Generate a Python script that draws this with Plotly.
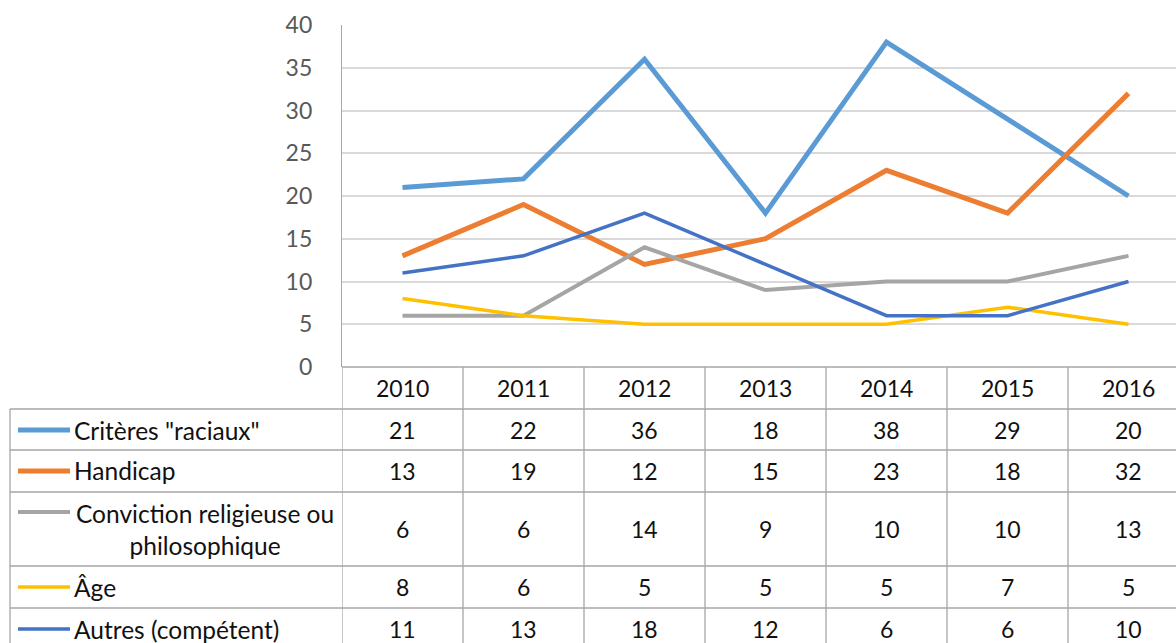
import plotly.graph_objects as go

# Chart data
years = ["2010", "2011", "2012", "2013", "2014", "2015", "2016"]
series_names = ["Critères \"raciaux\"", "Handicap", "Conviction religieuse ou<br>philosophique", "Âge", "Autres (compétent)"]
racial = [21, 22, 36, 18, 38, 29, 20]
handicap = [13, 19, 12, 15, 23, 18, 32]
conviction = [6, 6, 14, 9, 10, 10, 13]
age = [8, 6, 5, 5, 5, 7, 5]
autres = [11, 13, 18, 12, 6, 6, 10]
y_ticks = [0, 5, 10, 15, 20, 25, 30, 35, 40]

series_values = [racial, handicap, conviction, age, autres]
colors = ["#5b9bd5", "#ed7d31", "#a5a5a5", "#ffc000", "#4472c4"]
widths = [5, 5, 4, 3.5, 3.5]

W, H = 1176, 643
FONT = "Lato, Carlito, Calibri, sans-serif"
GRID = "#d9d9d9"
BORDER = "#a6a6a6"
TEXT = "#111111"
FS_NUM = 23
FS_LABEL = 24.5


def px(x):
    return x / W


def py(y):
    return 1 - y / H


# layout geometry (pixels)
plot_left, plot_top, plot_bottom = 342, 25, 367
col_w = 121
table_left = 10
row_lines = [409, 450, 492, 566, 608, 650]
row_centers = [430, 471, 529, 587, 629]
header_center = 388

n = len(years)
xpos = list(range(n))
x_right = -0.5 + (W - plot_left) / col_w

fig = go.Figure()
for name, vals, c, w in zip(series_names, series_values, colors, widths):
    fig.add_trace(go.Scatter(
        x=xpos, y=vals, mode="lines", name=name.replace("<br>", " "),
        line=dict(color=c, width=w), showlegend=False, hoverinfo="skip",
    ))

shapes = []
annotations = []

# horizontal table lines
for yl in row_lines:
    shapes.append(dict(type="line", xref="paper", yref="paper",
                       x0=px(table_left), x1=1, y0=py(yl), y1=py(yl),
                       line=dict(color=BORDER, width=1.3)))
# x-axis line at top of header row
shapes.append(dict(type="line", xref="paper", yref="paper",
                   x0=px(plot_left), x1=1, y0=py(plot_bottom), y1=py(plot_bottom),
                   line=dict(color=BORDER, width=1.3)))
# left border of series label column
shapes.append(dict(type="line", xref="paper", yref="paper",
                   x0=px(table_left), x1=px(table_left), y0=py(row_lines[0]), y1=py(H + 10),
                   line=dict(color=BORDER, width=1.3)))
# column separators
for i in range(n + 1):
    xb = i - 0.5
    shapes.append(dict(type="line", xref="x", yref="paper",
                       x0=xb, x1=xb, y0=py(plot_bottom), y1=py(H + 10),
                       line=dict(color=BORDER, width=1.3)))

# header years
for i, yr in enumerate(years):
    annotations.append(dict(x=i, y=py(header_center), xref="x", yref="paper",
                            text=yr, showarrow=False, xanchor="center", yanchor="middle",
                            font=dict(family=FONT, size=FS_NUM, color=TEXT)))

# series rows: key line, label, values
key_y = [430, 471, 512, 587, 629]
for r, (name, vals, c, w) in enumerate(zip(series_names, series_values, colors, widths)):
    shapes.append(dict(type="line", xref="paper", yref="paper",
                       x0=px(18), x1=px(70), y0=py(key_y[r]), y1=py(key_y[r]),
                       line=dict(color=c, width=w)))
    if "<br>" in name:
        annotations.append(dict(x=px(205), y=py(row_centers[r]), xref="paper", yref="paper",
                                text=name, showarrow=False, xanchor="center", yanchor="middle",
                                align="center",
                                font=dict(family=FONT, size=FS_LABEL, color=TEXT)))
    else:
        annotations.append(dict(x=px(72), y=py(row_centers[r]), xref="paper", yref="paper",
                                text=name, showarrow=False, xanchor="left", yanchor="middle",
                                font=dict(family=FONT, size=FS_LABEL, color=TEXT)))
    for i, v in enumerate(vals):
        annotations.append(dict(x=i, y=py(row_centers[r]), xref="x", yref="paper",
                                text=str(v), showarrow=False, xanchor="center", yanchor="middle",
                                font=dict(family=FONT, size=FS_NUM, color=TEXT)))

fig.update_layout(
    width=W, height=H,
    margin=dict(l=0, r=0, t=0, b=0, autoexpand=False),
    paper_bgcolor="white", plot_bgcolor="white",
    shapes=shapes, annotations=annotations, showlegend=False,
    xaxis=dict(domain=[px(plot_left), 1], range=[-0.5, x_right], automargin=False,
               showgrid=False, zeroline=False, showticklabels=False, fixedrange=True),
    yaxis=dict(domain=[py(plot_bottom), py(plot_top)], range=[0, 40], automargin=False,
               tickvals=y_ticks, ticktext=[str(t) for t in y_ticks],
               showgrid=True, gridcolor=GRID, gridwidth=1.5,
               zeroline=False, showline=True, linecolor=BORDER, linewidth=1.3,
               ticks="", ticklabelstandoff=24,
               tickfont=dict(family=FONT, size=23, color="#595959")),
)

fig.write_html("out.html")
